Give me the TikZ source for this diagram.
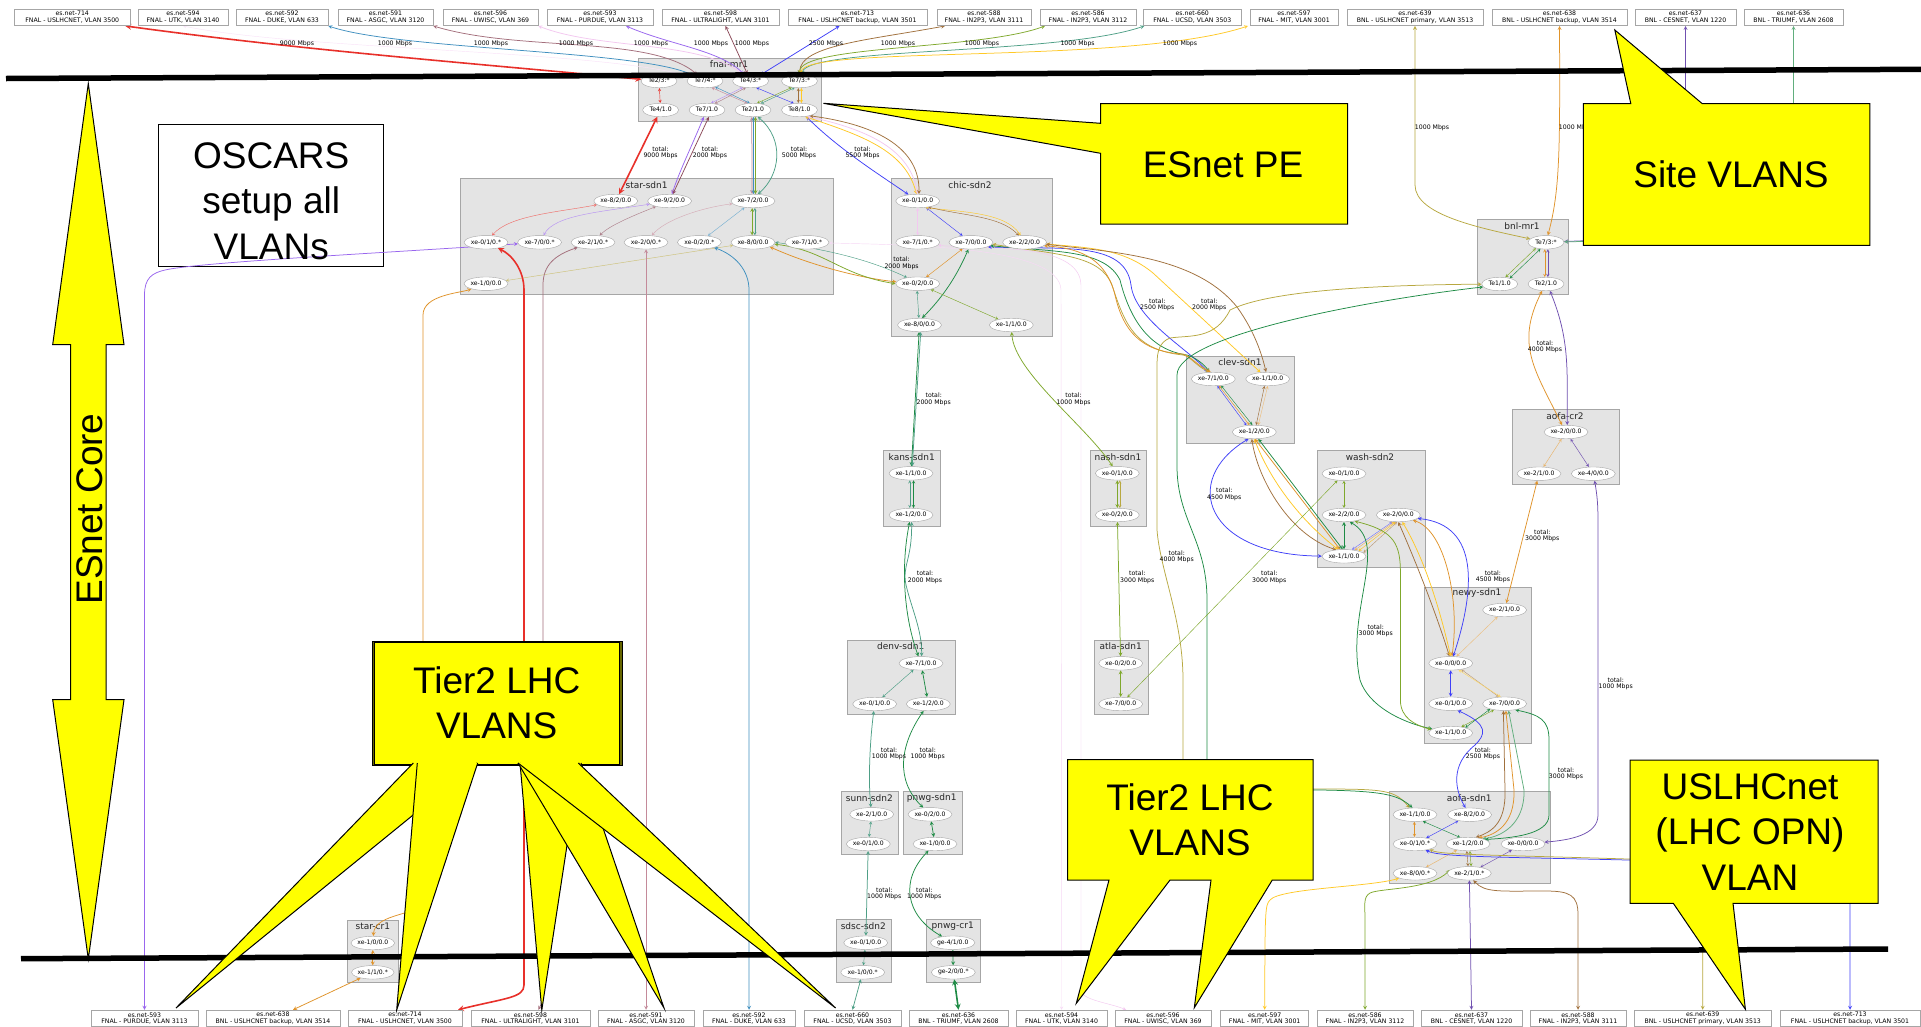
\documentclass[tikz,border=0pt]{standalone}
\usepackage{fontspec}
\setmainfont{DejaVu Sans}
\newfontfamily\calloutfont{Liberation Sans}
\usetikzlibrary{shapes.geometric}
\definecolor{calloutfill}{HTML}{FFFF00}
\definecolor{clusterfill}{HTML}{E4E4E4}
\definecolor{clusterline}{HTML}{A6A6A6}
\definecolor{vred}{HTML}{E8302A}
\definecolor{vblue}{HTML}{4040F8}
\definecolor{vsky}{HTML}{3F8FBF}
\definecolor{vrose}{HTML}{C48A9A}
\definecolor{vmauve}{HTML}{8C4A5A}
\definecolor{vpink}{HTML}{F3C8F0}
\definecolor{vpurple}{HTML}{9966EE}
\definecolor{vbrown}{HTML}{A0703C}
\definecolor{vgreen}{HTML}{1E8B45}
\definecolor{vteal}{HTML}{4E9F86}
\definecolor{volive}{HTML}{7FA82C}
\definecolor{vtan}{HTML}{B8A840}
\definecolor{vyellow}{HTML}{FFC926}
\definecolor{vorange}{HTML}{E0932A}
\definecolor{vviolet}{HTML}{7050B0}
\definecolor{vdark}{HTML}{666600}
\pgfdeclarelayer{back}
\pgfdeclarelayer{wires}
\pgfsetlayers{back,wires,main}
\tikzset{
  cluster/.style={draw=clusterline,fill=clusterfill,line width=.8pt,inner sep=0pt},
  clustertitle/.style={font=\fontsize{9}{10}\selectfont,text=black!85,inner sep=0pt},
  port/.style={ellipse,draw=clusterline,fill=white,inner sep=0pt,minimum width=44pt,minimum height=13.5pt,font=\fontsize{6.1}{7}\selectfont},
  portshort/.style={port,minimum width=36pt},
  vlanbox/.style={draw=clusterline,fill=white,line width=.6pt,inner sep=0pt,minimum height=16.7pt,align=center,font=\fontsize{6.2}{6.7}\selectfont},
  rate/.style={inner sep=0pt,align=center,font=\fontsize{6.2}{6.5}\selectfont},
  wire/.style={<->,>=stealth,line width=.75pt},
  wirefaint/.style={<->,>=stealth,line width=.45pt},
  wirethick/.style={<->,>=stealth,line width=1.6pt},
  balloon/.style={draw=black,fill=calloutfill,line width=1pt},
  balloontext/.style={inner sep=0pt,align=center,font=\calloutfont\fontsize{37}{45.5}\selectfont},
  border/.style={line width=5.5pt,black}
}
\begin{document}
\begin{tikzpicture}[x=1pt,y=-1pt]
  \path[use as bounding box] (0,0) rectangle (1921,1026);
  % clusters
  \begin{pgfonlayer}{back}
  \fill[white] (0,0) rectangle (1921,1026);
  \node[cluster,minimum width=183pt,minimum height=63pt] (fnalbox) at (730,89.5) {};
  \node[cluster,minimum width=372.8pt,minimum height=116.3pt] (starbox) at (647.1,236.2) {};
  \node[cluster,minimum width=160.6pt,minimum height=158pt] (chicbox) at (971.7,257) {};
  \node[cluster,minimum width=56.7pt,minimum height=75.3pt] (kansbox) at (911.7,488.4) {};
  \node[cluster,minimum width=56.7pt,minimum height=75.3pt] (nashbox) at (1118.4,488.4) {};
  \node[cluster,minimum width=108.4pt,minimum height=74pt] (denvbox) at (901.5,677.3) {};
  \node[cluster,minimum width=54.4pt,minimum height=74pt] (atlabox) at (1121.5,677.3) {};
  \node[cluster,minimum width=56.6pt,minimum height=63pt] (sunnbox) at (870,823.2) {};
  \node[cluster,minimum width=59pt,minimum height=63pt] (pnwbox) at (932.8,823.2) {};
  \node[cluster,minimum width=54.6pt,minimum height=62.6pt] (sdscbox) at (864,951) {};
  \node[cluster,minimum width=53.3pt,minimum height=62.6pt] (pcrbox) at (953.3,951) {};
  \node[cluster,minimum width=51pt,minimum height=62.3pt] (scrbox) at (372.5,951.2) {};
  \node[cluster,minimum width=107.6pt,minimum height=86.7pt] (clevbox) at (1240.5,399.7) {};
  \node[cluster,minimum width=107.7pt,minimum height=116.3pt] (washbox) at (1371.2,508.9) {};
  \node[cluster,minimum width=107pt,minimum height=75.3pt] (crabox) at (1565.8,446.7) {};
  \node[cluster,minimum width=91pt,minimum height=74.6pt] (bnlbox) at (1522.8,257) {};
  \node[cluster,minimum width=107.8pt,minimum height=156pt] (newybox) at (1477.9,665.7) {};
  \node[cluster,minimum width=160.8pt,minimum height=91.6pt] (aofabox) at (1470,837.5) {};
  \node[clustertitle] (fnaltitle) at (729,64.5) {fnal-mr1};
  \node[clustertitle] (startitle) at (646.6,184.7) {star-sdn1};
  \node[clustertitle] (chictitle) at (970,184.7) {chic-sdn2};
  \node[clustertitle] (kanstitle) at (911.7,457) {kans-sdn1};
  \node[clustertitle] (nashtitle) at (1118,457) {nash-sdn1};
  \node[clustertitle] (denvtitle) at (900.7,646.3) {denv-sdn1};
  \node[clustertitle] (atlatitle) at (1120.7,646.3) {atla-sdn1};
  \node[clustertitle] (sunntitle) at (869.3,798) {sunn-sdn2};
  \node[clustertitle] (pnwtitle) at (931.7,798) {pnwg-sdn1};
  \node[clustertitle] (sdsctitle) at (863.3,926) {sdsc-sdn2};
  \node[clustertitle] (pcrtitle) at (952.7,926) {pnwg-cr1};
  \node[clustertitle] (scrtitle) at (372.8,926.3) {star-cr1};
  \node[clustertitle] (clevtitle) at (1240,362) {clev-sdn1};
  \node[clustertitle] (washtitle) at (1370,457) {wash-sdn2};
  \node[clustertitle] (cratitle) at (1565,415.7) {aofa-cr2};
  \node[clustertitle] (bnltitle) at (1522,225.7) {bnl-mr1};
  \node[clustertitle] (newytitle) at (1477,593.3) {newy-sdn1};
  \node[clustertitle] (aofatitle) at (1469.3,798) {aofa-sdn1};
  \node[draw=black,fill=white,line width=.8pt,minimum width=225.3pt,minimum height=142.3pt] (oscarsbox) at (271.2,195.2) {};
  \end{pgfonlayer}
  % ports
  \node[portshort] (fnal23) at (659,81) {Te2/3:*};
  \node[portshort] (fnal74) at (705,81) {Te7/4:*};
  \node[portshort] (fnal43) at (750.6,81) {Te4/3:*};
  \node[portshort] (fnal73) at (799.5,81) {Te7/3:*};
  \node[portshort] (fnal41) at (660.6,110) {Te4/1.0};
  \node[portshort] (fnal71) at (707,110) {Te7/1.0};
  \node[portshort] (fnal21) at (753,110) {Te2/1.0};
  \node[portshort] (fnal81) at (799.5,110) {Te8/1.0};
  \node[port] (star82) at (615.8,201) {xe-8/2/0.0};
  \node[port] (star92) at (669.6,201) {xe-9/2/0.0};
  \node[port] (star72) at (753,201) {xe-7/2/0.0};
  \node[port] (star01) at (486,242.3) {xe-0/1/0.*};
  \node[port] (star70) at (539.6,242.3) {xe-7/0/0.*};
  \node[port] (star21) at (593,242.3) {xe-2/1/0.*};
  \node[port] (star20) at (646,242.3) {xe-2/0/0.*};
  \node[port] (star02) at (699.4,242.3) {xe-0/2/0.*};
  \node[port] (star80) at (753,242.3) {xe-8/0/0.0};
  \node[port] (star71) at (807,242.3) {xe-7/1/0.*};
  \node[port] (star10) at (486,283.7) {xe-1/0/0.0};
  \node[port] (chic01) at (917.7,201) {xe-0/1/0.0};
  \node[port] (chic71) at (917.7,242.3) {xe-7/1/0.*};
  \node[port] (chic70) at (970.9,242.3) {xe-7/0/0.0};
  \node[port] (chic22) at (1024.6,242.3) {xe-2/2/0.0};
  \node[port] (chic02) at (917.7,283.7) {xe-0/2/0.0};
  \node[port] (chic80) at (919.5,325) {xe-8/0/0.0};
  \node[port] (chic11) at (1011.3,325) {xe-1/1/0.0};
  \node[port] (kans11) at (911,473.3) {xe-1/1/0.0};
  \node[port] (kans12) at (911,515) {xe-1/2/0.0};
  \node[port] (nash01) at (1117.3,473.3) {xe-0/1/0.0};
  \node[port] (nash02) at (1117.3,515) {xe-0/2/0.0};
  \node[port] (denv71) at (921,663.3) {xe-7/1/0.0};
  \node[port] (denv01) at (874.7,704) {xe-0/1/0.0};
  \node[port] (denv12) at (928.3,704) {xe-1/2/0.0};
  \node[port] (atla02) at (1120.7,663.3) {xe-0/2/0.0};
  \node[port] (atla70) at (1120.7,704) {xe-7/0/0.0};
  \node[port] (sunn21) at (871.7,814.3) {xe-2/1/0.0};
  \node[port] (sunn01) at (868.3,844) {xe-0/1/0.0};
  \node[port] (pnw02) at (930,814.3) {xe-0/2/0.0};
  \node[port] (pnw10) at (935,844) {xe-1/0/0.0};
  \node[port] (sdsc01) at (865.7,942.7) {xe-0/1/0.0};
  \node[port] (sdsc10) at (862.7,972.3) {xe-1/0/0.*};
  \node[port] (pcr41) at (952.7,942.7) {ge-4/1/0.0};
  \node[port] (pcr20) at (953.3,972.3) {ge-2/0/0.*};
  \node[port,minimum width=41pt] (scr10) at (372.8,943) {xe-1/0/0.0};
  \node[port,minimum width=41pt] (scr11) at (372.8,972.3) {xe-1/1/0.*};
  \node[port] (clev71) at (1213.3,379) {xe-7/1/0.0};
  \node[port] (clev11) at (1267.7,379) {xe-1/1/0.0};
  \node[port] (clev12) at (1254.3,432) {xe-1/2/0.0};
  \node[port] (wash01) at (1344,473.7) {xe-0/1/0.0};
  \node[port] (wash22) at (1344,515) {xe-2/2/0.0};
  \node[port] (wash20) at (1398.3,515) {xe-2/0/0.0};
  \node[port] (wash11) at (1344,556.3) {xe-1/1/0.0};
  \node[port] (cra20) at (1566,432) {xe-2/0/0.0};
  \node[port] (cra21) at (1539,473.7) {xe-2/1/0.0};
  \node[port] (cra40) at (1593.3,473.7) {xe-4/0/0.0};
  \node[portshort] (bnl73) at (1546,242.3) {Te7/3:*};
  \node[portshort] (bnl11) at (1499.7,284) {Te1/1.0};
  \node[portshort] (bnl21) at (1546,284) {Te2/1.0};
  \node[port] (newy21) at (1504.6,610) {xe-2/1/0.0};
  \node[port] (newy00) at (1450.7,663.3) {xe-0/0/0.0};
  \node[port] (newy01) at (1450.7,703.7) {xe-0/1/0.0};
  \node[port] (newy70) at (1504.6,703.7) {xe-7/0/0.0};
  \node[port] (newy11) at (1450.7,733) {xe-1/1/0.0};
  \node[port] (aofa11) at (1415,814.7) {xe-1/1/0.0};
  \node[port] (aofa82) at (1469.6,814.7) {xe-8/2/0.0};
  \node[port] (aofa01) at (1415,844) {xe-0/1/0.*};
  \node[port] (aofa12) at (1468,844) {xe-1/2/0.0};
  \node[port] (aofa00) at (1523,844) {xe-0/0/0.0};
  \node[port] (aofa80) at (1415,873.3) {xe-8/0/0.*};
  \node[port] (aofa21) at (1469.3,873.3) {xe-2/1/0.*};
  % site VLANs, top row
  \node[vlanbox,minimum width=115.3pt] (top714) at (72.3,17.3) {es.net-714\\FNAL - USLHCNET, VLAN 3500};
  \node[vlanbox,minimum width=90pt] (top594) at (183,17.3) {es.net-594\\FNAL - UTK, VLAN 3140};
  \node[vlanbox,minimum width=92pt] (top592) at (282,17.3) {es.net-592\\FNAL - DUKE, VLAN 633};
  \node[vlanbox,minimum width=95pt] (top591) at (385.5,17.3) {es.net-591\\FNAL - ASGC, VLAN 3120};
  \node[vlanbox,minimum width=95pt] (top596) at (490.5,17.3) {es.net-596\\FNAL - UWISC, VLAN 369};
  \node[vlanbox,minimum width=106pt] (top593) at (600,17.3) {es.net-593\\FNAL - PURDUE, VLAN 3113};
  \node[vlanbox,minimum width=117pt] (top598) at (720.5,17.3) {es.net-598\\FNAL - ULTRALIGHT, VLAN 3101};
  \node[vlanbox,minimum width=139pt] (top713) at (857.5,17.3) {es.net-713\\FNAL - USLHCNET backup, VLAN 3501};
  \node[vlanbox,minimum width=94pt] (top588) at (984,17.3) {es.net-588\\FNAL - IN2P3, VLAN 3111};
  \node[vlanbox,minimum width=96pt] (top586) at (1088,17.3) {es.net-586\\FNAL - IN2P3, VLAN 3112};
  \node[vlanbox,minimum width=97.4pt] (top660) at (1192.3,17.3) {es.net-660\\FNAL - UCSD, VLAN 3503};
  \node[vlanbox,minimum width=88pt] (top597) at (1294,17.3) {es.net-597\\FNAL - MIT, VLAN 3001};
  \node[vlanbox,minimum width=136pt] (top639) at (1415,17.3) {es.net-639\\BNL - USLHCNET primary, VLAN 3513};
  \node[vlanbox,minimum width=135pt] (top638) at (1559.5,17.3) {es.net-638\\BNL - USLHCNET backup, VLAN 3514};
  \node[vlanbox,minimum width=101pt] (top637) at (1685.5,17.3) {es.net-637\\BNL - CESNET, VLAN 1220};
  \node[vlanbox,minimum width=99pt] (top636) at (1793.5,17.3) {es.net-636\\BNL - TRIUMF, VLAN 2608};
  % site VLANs, bottom row
  \node[vlanbox,minimum width=107pt] (bot593) at (144.5,1018.4) {es.net-593\\FNAL - PURDUE, VLAN 3113};
  \node[vlanbox,minimum width=134pt] (bot638) at (273,1018.4) {es.net-638\\BNL - USLHCNET backup, VLAN 3514};
  \node[vlanbox,minimum width=114pt] (bot714) at (405,1018.4) {es.net-714\\FNAL - USLHCNET, VLAN 3500};
  \node[vlanbox,minimum width=119pt] (bot598) at (530.5,1018.4) {es.net-598\\FNAL - ULTRALIGHT, VLAN 3101};
  \node[vlanbox,minimum width=96pt] (bot591) at (646,1018.4) {es.net-591\\FNAL - ASGC, VLAN 3120};
  \node[vlanbox,minimum width=92pt] (bot592) at (749,1018.4) {es.net-592\\FNAL - DUKE, VLAN 633};
  \node[vlanbox,minimum width=97pt] (bot660) at (852.5,1018.4) {es.net-660\\FNAL - UCSD, VLAN 3503};
  \node[vlanbox,minimum width=99pt] (bot636) at (958.5,1018.4) {es.net-636\\BNL - TRIUMF, VLAN 2608};
  \node[vlanbox,minimum width=91pt] (bot594) at (1061.5,1018.4) {es.net-594\\FNAL - UTK, VLAN 3140};
  \node[vlanbox,minimum width=96pt] (bot596) at (1163,1018.4) {es.net-596\\FNAL - UWISC, VLAN 369};
  \node[vlanbox,minimum width=88pt] (bot597) at (1264.7,1018.4) {es.net-597\\FNAL - MIT, VLAN 3001};
  \node[vlanbox,minimum width=96pt] (bot586) at (1365,1018.4) {es.net-586\\FNAL - IN2P3, VLAN 3112};
  \node[vlanbox,minimum width=101pt] (bot637) at (1471.5,1018.4) {es.net-637\\BNL - CESNET, VLAN 1220};
  \node[vlanbox,minimum width=96pt] (bot588) at (1578,1018.4) {es.net-588\\FNAL - IN2P3, VLAN 3111};
  \node[vlanbox,minimum width=136.5pt] (bot639) at (1702.7,1018.4) {es.net-639\\BNL - USLHCNET primary, VLAN 3513};
  \node[vlanbox,minimum width=140pt] (bot713) at (1850,1018.4) {es.net-713\\FNAL - USLHCNET backup, VLAN 3501};
  % rates
  \node[rate] (rate714) at (297,43.5) {9000 Mbps};
  \node[rate] (rate594) at (395,43.5) {1000 Mbps};
  \node[rate] (rate592) at (491,43.5) {1000 Mbps};
  \node[rate] (rate591) at (576,43.5) {1000 Mbps};
  \node[rate] (rate596) at (651,43.5) {1000 Mbps};
  \node[rate] (rate593) at (711,43.5) {1000 Mbps};
  \node[rate] (rate598) at (752,43.5) {1000 Mbps};
  \node[rate] (rate713) at (826,43.5) {2500 Mbps};
  \node[rate] (rate588) at (898,43.5) {1000 Mbps};
  \node[rate] (rate586) at (982,43.5) {1000 Mbps};
  \node[rate] (rate660) at (1077.6,43.5) {1000 Mbps};
  \node[rate] (rate597) at (1180,43.5) {1000 Mbps};
  \node[rate] (rate639) at (1432,128) {1000 Mbps};
  \node[rate] (rate638) at (1576,128) {1000 Mbps};
  \node[rate] (ratefnalA) at (660.6,152.7) {total:\\9000 Mbps};
  \node[rate] (ratefnalB) at (710,152.7) {total:\\2000 Mbps};
  \node[rate] (ratefnalC) at (799,152.7) {total:\\5000 Mbps};
  \node[rate] (ratefnalD) at (862.6,152.7) {total:\\5500 Mbps};
  \node[rate] (ratestar) at (901.6,263.3) {total:\\2000 Mbps};
  \node[rate] (rateclevA) at (1157.3,305) {total:\\2500 Mbps};
  \node[rate] (rateclevB) at (1209.3,305) {total:\\2000 Mbps};
  \node[rate] (ratekans) at (933.7,399.3) {total:\\2000 Mbps};
  \node[rate] (ratenash) at (1073.6,399.3) {total:\\1000 Mbps};
  \node[rate] (ratebnl) at (1545,346.7) {total:\\4000 Mbps};
  \node[rate] (ratewash) at (1224.3,494.3) {total:\\4500 Mbps};
  \node[rate] (ratedenv) at (925,577.3) {total:\\2000 Mbps};
  \node[rate] (rateatla) at (1137.3,577.3) {total:\\3000 Mbps};
  \node[rate] (ratelong) at (1176.7,556.7) {total:\\4000 Mbps};
  \node[rate] (ratecross) at (1269.3,577.3) {total:\\3000 Mbps};
  \node[rate] (ratecra) at (1542.3,536) {total:\\3000 Mbps};
  \node[rate] (ratenewy) at (1492.9,576.7) {total:\\4500 Mbps};
  \node[rate] (ratewest) at (1375.7,630.7) {total:\\3000 Mbps};
  \node[rate] (rateeast) at (1615.7,684) {total:\\1000 Mbps};
  \node[rate] (rateaofaA) at (1482.9,754) {total:\\2500 Mbps};
  \node[rate] (rateaofaB) at (1566,773.7) {total:\\3000 Mbps};
  \node[rate] (ratesunn) at (889,754) {total:\\1000 Mbps};
  \node[rate] (ratepnw) at (927.7,754) {total:\\1000 Mbps};
  \node[rate] (ratesdsc) at (884.3,894) {total:\\1000 Mbps};
  \node[rate] (ratepcr) at (924.3,894) {total:\\1000 Mbps};
  \begin{pgfonlayer}{wires}
  % into fnal-mr1
  \draw[wirethick,vred] ([xshift=53pt]top714.south) .. controls (300,50) and (480,64) .. (fnal23);
  \draw[wirefaint,vpink!50] (top594.south) .. controls (300,50) and (600,50) .. (fnal74);
  \draw[wire,vsky] (top592.south east) .. controls (400,50) and (640,50) .. (fnal74);
  \draw[wire,vmauve!80] (top591.south east) .. controls (520,52) and (650,35) .. (fnal74);
  \draw[wire,vpink] (top596.south east) .. controls (600,50) and (700,40) .. (fnal43);
  \draw[wire,vpurple] ([xshift=26pt]top593.south) .. controls (670,45) and (720,50) .. (fnal43);
  \draw[wire,vmauve] ([xshift=5pt]top598.south) -- (fnal43);
  \draw[wire,vblue] ([xshift=-18pt]top713.south) -- (fnal43);
  \draw[wire,vbrown] ([xshift=-39pt]top588.south) .. controls (870,40) and (800,45) .. (fnal73);
  \draw[wire,volive] ([xshift=-43pt]top586.south) .. controls (980,50) and (800,45) .. (fnal73);
  \draw[wire,vteal] ([xshift=-48pt]top660.south) .. controls (1060,55) and (810,47) .. (fnal73);
  \draw[wire,vyellow] ([xshift=-46pt]top597.south) .. controls (1130,65) and (805,45) .. (fnal73);
  % into bnl-mr1
  \draw[wire,vtan] (top639.south) -- (1415,185) .. controls (1415,215) and (1480,228) .. (bnl73);
  \draw[wire,vorange] (top638.south) .. controls (1560,150) and (1560,190) .. (bnl73);
  \draw[wire,vviolet] (top637.south) -- (1685.5,225) .. controls (1685.5,238) and (1600,240) .. (bnl73);
  \draw[wire,vgreen!70] (top636.south) -- (1793.5,225) .. controls (1793.5,240) and (1600,241) .. (bnl73);
  % fnal-mr1
  \draw[wirefaint,vred] (fnal23) -- (fnal41);
  \draw[wirefaint,vrose] (fnal74.-45) -- (fnal21.130);
  \draw[wirefaint,vsky] (fnal74.-30) -- (fnal21.115);
  \draw[wirefaint,vpurple!70] (fnal43.-140) -- (fnal71.60);
  \draw[wirefaint,vmauve!70] (fnal43.-125) -- (fnal71.40);
  \draw[wirefaint,vblue] (fnal43.-50) -- (fnal81.130);
  \draw[wirefaint,volive] (fnal73.-140) -- (fnal21.60);
  \draw[wirefaint,vteal] (fnal73.-125) -- (fnal21.40);
  \draw[wirefaint,vbrown] (fnal73.-100) -- (fnal81.100);
  \draw[wirefaint,vyellow] (fnal73.-75) -- (fnal81.75);
  % fnal-mr1 to star-sdn1 and chic-sdn2
  \draw[wirethick,vred] (fnal41) -- (star82);
  \draw[wire,vpurple] (fnal71.-115) .. controls (690,150) and (680,170) .. (star92);
  \draw[wire,vmauve] (fnal71.-75) -- (star92);
  \draw[wire,vrose] (fnal21.-100) -- (star72.98);
  \draw[wire,vsky] (fnal21.-85) -- (star72.85);
  \draw[wire,volive] (fnal21.-70) -- (star72.70);
  \draw[wire,vteal] (fnal21.-55) .. controls (785,140) and (780,175) .. (star72.55);
  \draw[wire,vblue] (fnal81) .. controls (840,150) and (880,175) .. (chic01);
  \draw[wire,vyellow] (fnal81.-50) .. controls (860,135) and (905,150) .. (chic01.100);
  \draw[wire,vpink] (fnal81.-40) .. controls (870,130) and (910,150) .. (chic01.90);
  \draw[wire,vbrown] (fnal81.-30) .. controls (880,125) and (920,150) .. (chic01.80);
  % star-sdn1
  \draw[wirefaint,vred!70] (star82) .. controls (560,212) and (510,215) .. (star01);
  \draw[wirefaint,vpurple!70] (star92) .. controls (600,212) and (555,215) .. (star70);
  \draw[wirefaint,vmauve!70] (star92) .. controls (635,215) and (610,225) .. (star21);
  \draw[wirefaint,vrose!70] (star72) .. controls (700,208) and (665,220) .. (star20);
  \draw[wirefaint,vsky!70] (star72) -- (star02);
  \draw[wire,volive] (star72.-97) -- (star80.97);
  \draw[wirefaint,vteal] (star72.-75) -- (star80.75);
  \draw[wirefaint,vtan!70] (star10) -- (star80);
  \draw[wire,vorange] (star80.-15) .. controls (810,265) and (860,278) .. (chic02.175);
  \draw[wire,volive] (star80.-5) .. controls (825,250) and (840,275) .. (chic02.180);
  \draw[wirefaint,vteal] (star80.0) .. controls (830,250) and (870,260) .. (chic02.150);
  % star-sdn1 down to the bottom row
  \draw[wirethick,vred] (star01) .. controls (512,255) and (524,270) .. (524,290) -- (524,985) .. controls (524,998) and (505,998) .. ([xshift=53pt]bot714.north);
  \draw[wire,vmauve!80] (star21) .. controls (555,255) and (543,265) .. (543,285) -- (543,1000) -- ([xshift=8pt]bot598.north);
  \draw[wire,vrose] (star20) -- (bot591.north);
  \draw[wire,vsky] (star02) .. controls (735,255) and (749,270) .. (749,290) -- (bot592.north);
  \draw[wire,vpurple] (star70) .. controls (400,252) and (200,262) .. (165,270) .. controls (152,273) and (144.5,278) .. (144.5,295) -- (bot593.north);
  \draw[wire,vorange] (star10) .. controls (460,293) and (423,295) .. (423,315) -- (423,900) .. controls (423,916) and (375,912) .. (scr10);
  \draw[wire,vorange] (scr10) -- (scr11);
  \draw[wire,vorange] (scr11) -- ([xshift=20pt]bot638.north);
  \draw[wirefaint,vpink!70] (star71) .. controls (900,245) and (1060,245) .. (1061,290) -- (bot594.north);
  \draw[wirefaint,vpink] (chic71) .. controls (975,250) and (1080,240) .. (1081,285) -- (1081,990) .. controls (1081,1000) and (1110,1003) .. ([xshift=-37pt]bot596.north);
  % chic-sdn2
  \draw[wirefaint,vpink] (chic01) -- (chic71);
  \draw[wirefaint,vblue] (chic01) -- (chic70);
  \draw[wirefaint,vyellow] (chic01.-40) .. controls (960,212) and (1005,212) .. (chic22.120);
  \draw[wirefaint,vbrown] (chic01.-30) .. controls (965,216) and (1000,216) .. (chic22.130);
  \draw[wire,vgreen] (chic70.-110) .. controls (955,280) and (940,300) .. (chic80.70);
  \draw[wirefaint,vorange] (chic70) -- (chic02);
  \draw[wirefaint,vteal] (chic02.-95) -- (chic80.95);
  \draw[wirefaint,volive] (chic02) -- (chic11);
  \draw[wire,vgreen] (chic80) -- (kans11);
  \draw[wire,vteal] (chic80.-80) -- (kans11.80);
  \draw[wire,volive] (chic11) .. controls (1014,372) and (1085,425) .. (nash01);
  % chic-sdn2 to clev-sdn1
  \draw[wire,vblue] (chic70.-15) .. controls (1060,250) and (1125,240) .. (1131,285) .. controls (1135,320) and (1190,350) .. (clev71);
  \draw[wire,vgreen] (chic70.-10) .. controls (1060,252) and (1105,250) .. (1120,280) .. controls (1130,320) and (1150,350) .. (1187,355) .. controls (1195,357) and (1205,365) .. (clev71);
  \draw[wire,vtan] (chic70.-5) .. controls (1060,255) and (1100,255) .. (1112,285) .. controls (1125,325) and (1135,350) .. (1183,355) .. controls (1190,356) and (1195,365) .. (clev71.120);
  \draw[wire,vorange] (chic22.-10) .. controls (1075,248) and (1105,255) .. (1115,295) .. controls (1125,340) and (1150,352) .. (1183,354) .. controls (1190,356) and (1197,365) .. (clev71.110);
  \draw[wire,vyellow] (chic22) .. controls (1095,248) and (1125,250) .. (1153,273) -- (clev11);
  \draw[wire,vbrown] (chic22.-5) .. controls (1110,252) and (1195,255) .. (1237,307) .. controls (1255,332) and (1262,355) .. (clev11);
  % bnl-mr1
  \draw[wirefaint,volive] (bnl73.-150) -- (bnl11.50);
  \draw[wirefaint,vgreen] (bnl73.-130) -- (bnl11.30);
  \draw[wirefaint,vorange] (bnl73.-100) -- (bnl21.100);
  \draw[wirefaint,vviolet] (bnl73.-75) -- (bnl21.75);
  \draw[wire,vtan] (bnl11) .. controls (1380,285) and (1270,290) .. (1230,310) .. controls (1215,340) and (1190,335) .. (1170,338) .. controls (1160,342) and (1157,350) .. (1157,365) -- (1157,530) .. controls (1160,570) and (1183,620) .. (1183,680) -- (1183,760) .. controls (1183,785) and (1200,789) .. (1320,789) .. controls (1385,789) and (1395,790) .. (aofa11);
  \draw[wire,vgreen] (bnl11.190) .. controls (1370,300) and (1177,335) .. (1177,375) -- (1177,466) .. controls (1177,520) and (1207,540) .. (1207,600) -- (1207,770) .. controls (1207,787) and (1220,790) .. (1320,790) .. controls (1385,791) and (1398,795) .. (aofa11.110);
  \draw[wire,vorange] (bnl21.-120) .. controls (1515,345) and (1535,370) .. (cra20.120);
  \draw[wire,vviolet] (bnl21.-60) .. controls (1570,340) and (1567,370) .. (cra20.80);
  % aofa-cr2
  \draw[wirefaint,vorange!70] (cra20) -- (cra21);
  \draw[wirefaint,vviolet] (cra20) -- (cra40);
  \draw[wire,vorange] (cra21) -- (newy21);
  \draw[wire,vviolet] (cra40) .. controls (1598,500) and (1598,510) .. (1598,530) -- (1598,815) .. controls (1598,835) and (1570,840) .. (aofa00);
  % clev-sdn1
  \draw[wirefaint,vblue] (clev71.-60) -- (clev12.140);
  \draw[wirefaint,vorange] (clev71.-50) -- (clev12.125);
  \draw[wirefaint,vgreen] (clev71.-40) -- (clev12.105);
  \draw[wirefaint,vbrown] (clev11.-115) -- (clev12.75);
  \draw[wirefaint,vorange!60] (clev11.-90) -- (clev12.60);
  \draw[wire,vblue] (clev12.-130) .. controls (1180,480) and (1205,555) .. (wash11);
  \draw[wire,vbrown] (clev12.-110) .. controls (1258,480) and (1290,535) .. (wash11.140);
  \draw[wire,vyellow] (clev12.-90) .. controls (1270,480) and (1300,520) .. (wash11.130);
  \draw[wire,vorange] (clev12.-85) -- (wash11.120);
  \draw[wire,vgreen] (clev12.-60) -- (wash11.100);
  % nash, atla, wash
  \draw[wire,volive] (nash01) -- (nash02);
  \draw[wirefaint,vtan] (nash01.-70) -- (nash02.70);
  \draw[wire,volive] (nash02) -- (atla02);
  \draw[wire,volive] (atla02) -- (atla70);
  \draw[wirefaint,volive] (atla70) -- (wash01);
  \draw[wirefaint,volive] (wash01) -- (wash22);
  \draw[wire,vgreen] (wash22) -- (wash11);
  \draw[wirefaint,vblue!70] (wash20.-130) -- (wash11.40);
  \draw[wirefaint,vorange!70] (wash20.-120) -- (wash11.30);
  \draw[wirefaint,vyellow] (wash20.-110) -- (wash11.20);
  \draw[wirefaint,vbrown!70] (wash20.-100) -- (wash11.10);
  \draw[wire,vgreen] (wash22.-50) .. controls (1390,545) and (1345,610) .. (1360,680) .. controls (1368,705) and (1400,722) .. (newy11);
  \draw[wire,volive] (wash22.-30) .. controls (1390,530) and (1400,540) .. (1400.4,570) -- (1400.4,700) .. controls (1400.4,718) and (1415,725) .. (newy11.170);
  \draw[wire,vbrown] (wash20.-90) .. controls (1415,560) and (1435,610) .. (newy00.100);
  \draw[wire,vyellow] (wash20.-60) .. controls (1425,560) and (1440,610) .. (newy00.90);
  \draw[wire,vorange] (wash20.-20) .. controls (1445,530) and (1460,600) .. (newy00.80);
  \draw[wire,vblue] (wash20.-10) .. controls (1480,525) and (1475,590) .. (newy00.70);
  % newy-sdn1
  \draw[wirefaint,vorange!60] (newy21) -- (newy00.50);
  \draw[wire,vblue] (newy00) -- (newy01);
  \draw[wirefaint,vbrown!70] (newy00.-30) -- (newy70.130);
  \draw[wirefaint,vyellow!70] (newy00.-40) -- (newy70.120);
  \draw[wirefaint,volive] (newy70.-150) -- (newy11.30);
  \draw[wirefaint,vgreen] (newy70.-160) -- (newy11.20);
  \draw[wire,vblue] (newy01.-45) .. controls (1490,725) and (1485,735) .. (1475,745) .. controls (1450,765) and (1455,790) .. (aofa82);
  \draw[wire,vbrown] (newy70.-100) -- (1505,790) .. controls (1506,825) and (1490,832) .. (aofa12.40);
  \draw[wire,vorange] (newy70.-80) -- (1514,790) .. controls (1515,825) and (1495,835) .. (aofa12.30);
  \draw[wire,vgreen!70] (newy70.-60) -- (1524,790) .. controls (1525,825) and (1500,837) .. (aofa12.20);
  \draw[wire,vgreen] (newy70.-30) .. controls (1540,715) and (1549,720) .. (1549,740) -- (1549,815) .. controls (1549,835) and (1510,838) .. (aofa12.15);
  % aofa-sdn1
  \draw[wirefaint,vorange] (aofa11.-95) -- (aofa01.95);
  \draw[wirefaint,vgreen] (aofa11.-40) -- (aofa12.140);
  \draw[wirefaint,vblue] (aofa82) -- (aofa01);
  \draw[wirefaint,vbrown] (aofa12.-100) -- (aofa21.100);
  \draw[wirefaint,volive] (aofa12.-75) -- (aofa21.75);
  \draw[wirefaint,vviolet] (aofa00) -- (aofa21);
  \draw[wirefaint,vorange!70] (aofa12) -- (aofa80);
  \draw[wire,vblue] (aofa01.-30) .. controls (1440,857) and (1500,857) .. (1628,860) -- (1850,860) -- (bot713.north);
  \draw[wire,vtan] (aofa01.-20) .. controls (1440,855) and (1500,855) .. (1628,859) -- (1702.7,859) -- (bot639.north);
  \draw[wire,vyellow] (aofa80) .. controls (1370,887) and (1280,888) .. (1270,900) .. controls (1265,905) and (1265,910) .. (bot597.north);
  \draw[wire,volive] (aofa21.170) .. controls (1430,890) and (1380,888) .. (1370,893) .. controls (1363,897) and (1365,905) .. (1365,920) -- (bot586.north);
  \draw[wire,vviolet] (aofa21) -- (bot637.north);
  \draw[wire,vbrown] (aofa21.-60) .. controls (1485,893) and (1500,891) .. (1545,891) .. controls (1570,891) and (1578,895) .. (1578,915) -- (bot588.north);
  % kans to the west coast
  \draw[wirefaint,vteal] (kans11.-100) -- (kans12.100);
  \draw[wirefaint,vgreen] (kans11.-70) -- (kans12.70);
  \draw[wire,vgreen] (kans12) .. controls (900,570) and (905,620) .. (denv71);
  \draw[wire,vteal] (kans12.-85) .. controls (912,560) and (902,565) .. (906,585) .. controls (912,610) and (922,630) .. (denv71.85);
  \draw[wire,vgreen] (denv71) -- (denv12);
  \draw[wirefaint,vteal] (denv71) -- (denv01);
  \draw[wire,vteal] (denv01) .. controls (870,740) and (868,780) .. (sunn21);
  \draw[wire,vgreen] (denv12) .. controls (900,745) and (895,780) .. (pnw02);
  \draw[wirefaint,vteal] (sunn21) -- (sunn01);
  \draw[wire,vgreen] (pnw02) -- (pnw10);
  \draw[wire,vteal] (sunn01) -- (sdsc01);
  \draw[wire,vgreen] (pnw10) .. controls (900,880) and (905,915) .. (pcr41);
  \draw[wirefaint,vteal] (sdsc01) -- (sdsc10);
  \draw[wire,vgreen] (pcr41) -- (pcr20);
  \draw[wire,vteal] (sdsc10) -- (bot660.north);
  \draw[wirethick,vgreen] (pcr20) -- (bot636.north);
  \end{pgfonlayer}
  % core borders
  \coordinate (topleft) at (6,78.5);
  \coordinate (topright) at (1921,69.3);
  \coordinate (botleft) at (21,958.7);
  \coordinate (botright) at (1888,949);
  \draw[border] (topleft) -- (topright);
  \draw[border] (botleft) -- (botright);
  % callouts
  \node[balloontext] (oscarstext) at (271.2,201) {OSCARS\\setup all\\VLANs};
  \draw[balloon] (88.3,83.5) -- (124,344.6) -- (106,344.6) -- (106,699.7) -- (124,699.7) -- (88.3,959) -- (52.7,699.7) -- (70.7,699.7) -- (70.7,344.6) -- (52.7,344.6) -- cycle;
  \node[balloontext,rotate=90] (coretext) at (90,509) {ESnet Core};
  \draw[balloon] (1100.5,103.7) -- (1347.5,103.7) -- (1347.5,224) -- (1100.5,224) -- (1100.5,153.3) -- (823.4,103.3) -- (1100.5,123.3) -- cycle;
  \node[balloontext] (petext) at (1223,165) {ESnet PE};
  \draw[balloon] (1583.4,103.7) -- (1630.8,103.7) -- (1614.8,30) -- (1702.3,103.7) -- (1869.9,103.7) -- (1869.9,245.3) -- (1583.4,245.3) -- cycle;
  \node[balloontext] (sitetext) at (1731,174) {Site VLANS};
  \draw[balloon] (1067.7,759.7) -- (1313.2,759.7) -- (1313.2,880) -- (1272.3,880) -- (1194.3,1007.7) -- (1211,880) -- (1170,880) -- (1076.3,1003.3) -- (1109,880) -- (1067.7,880) -- cycle;
  \node[balloontext] (tiermid) at (1190,820) {Tier2 LHC\\VLANS};
  \draw[balloon] (1630,760) -- (1878,760) -- (1878,903.3) -- (1733,903.3) -- (1745.4,1009.3) -- (1673.3,903.3) -- (1630,903.3) -- cycle;
  \node[balloontext] (opntext) at (1750,831.7) {USLHCnet\\(LHC OPN)\\VLAN};
  \draw[balloon,fill=vdark] (372.5,641) rectangle (622,765);
  \draw[balloon] (374.3,642) rectangle (619.3,764);
  \draw[balloon] (477,763) -- (176,1008) -- (413.3,763);
  \draw[balloon] (417.3,763) -- (396.7,1010) -- (477.7,763);
  \draw[balloon] (520,763) -- (541.8,1010) -- (579.6,763);
  \draw[balloon] (518,763) -- (664,1008) -- (581,763);
  \draw[balloon] (518,763) -- (835.6,1008) -- (578.3,763);
  \node[balloontext] (tierleft) at (496.7,703) {Tier2 LHC\\VLANS};
\end{tikzpicture}
\end{document}
